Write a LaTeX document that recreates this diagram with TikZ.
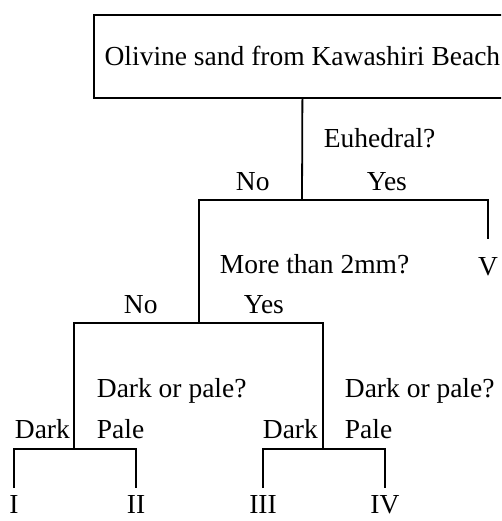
\documentclass[tikz,border=0pt]{standalone}
\usepackage{fontspec}
\setmainfont{Liberation Serif}
\begin{document}
\begin{tikzpicture}[x=1pt,y=-1pt,line width=1.8pt,
  lbl/.style={inner sep=0pt,anchor=base west,font=\fontsize{27.5}{32}\selectfont},
  leaf/.style={inner sep=0pt,anchor=base,font=\fontsize{27.5}{32}\selectfont},
  titlebox/.style={draw,inner sep=0pt,anchor=north west,minimum width=417pt,minimum height=83pt,font=\fontsize{27.5}{32}\selectfont}]
\useasboundingbox (0,0) rectangle (501,521);
\clip (0,0) rectangle (501,521);
\node[titlebox] (title) at (93,14) {Olivine sand from Kawashiri Beach};
\coordinate (j1) at (302,200);
\coordinate (j2) at (199,323);
\coordinate (j3l) at (74,449);
\coordinate (j3r) at (323,449);
\node[lbl] (euh) at (323,148) {Euhedral?};
\node[lbl] (no1) at (235,190) {No};
\node[lbl] (yes1) at (366,190) {Yes};
\node[lbl] (more) at (219,273) {More than 2mm?};
\node[leaf] (V) at (488,275) {V};
\node[lbl] (no2) at (123,313) {No};
\node[lbl] (yes2) at (243,313) {Yes};
\node[lbl] (dpl) at (96,397) {Dark or pale?};
\node[lbl] (dpr) at (344,397) {Dark or pale?};
\node[lbl] (dark1) at (14,438) {Dark};
\node[lbl] (pale1) at (96,438) {Pale};
\node[lbl] (dark2) at (262,438) {Dark};
\node[lbl] (pale2) at (344,438) {Pale};
\node[leaf] (I) at (14,513) {I};
\node[leaf] (II) at (136,513) {II};
\node[leaf] (III) at (263,513) {III};
\node[leaf] (IV) at (385,513) {IV};
\draw (title.south) -- (j1);
\draw (j2) |- (j1) -| ([yshift=17pt]V.north);
\draw (j3l) |- (j2) -| (j3r);
\draw ([yshift=6pt]I.north) |- (j3l) -| ([yshift=6pt]II.north);
\draw ([yshift=6pt]III.north) |- (j3r) -| ([yshift=6pt]IV.north);
\end{tikzpicture}
\end{document}
